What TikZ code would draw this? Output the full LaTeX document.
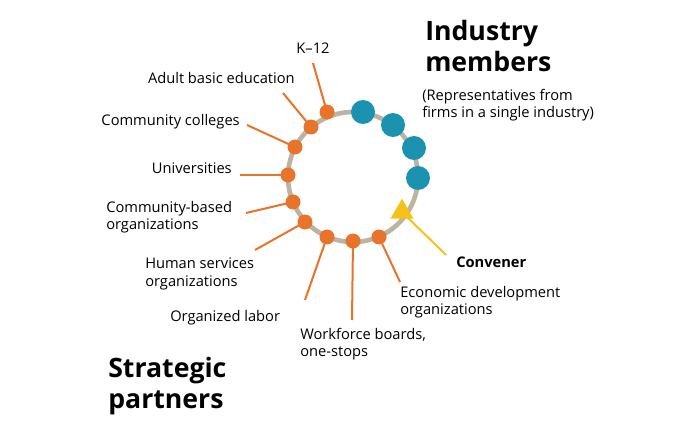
\documentclass[tikz,border=0pt]{standalone}
\usepackage{fontspec}
\setmainfont{Open Sans}
\usetikzlibrary{shapes.geometric}
\begin{document}
\begin{tikzpicture}[x=0.75pt,y=-0.75pt,
 lbl/.style={font=\fontsize{11}{13}\selectfont, inner sep=0pt, align=left},
 ttl/.style={font=\fontsize{20}{23}\selectfont\bfseries, inner sep=0pt, align=left},
 od/.style={circle, fill=orange1, minimum size=11.25pt, inner sep=0pt},
 bd/.style={circle, fill=blue1, minimum size=18pt, inner sep=0pt},
 tri/.style={fill=yel, regular polygon, regular polygon sides=3, inner sep=0pt, minimum size=20pt},
 ol/.style={draw=orange1, line width=1.5pt}]
\definecolor{orange1}{HTML}{E8732A}
\definecolor{blue1}{HTML}{1A92B0}
\definecolor{ring}{HTML}{BDB3A0}
\definecolor{yel}{HTML}{F5C21A}
\useasboundingbox (0,0) rectangle (700,424);
\draw[ring, line width=3.5pt] (353,177) circle (65);
\coordinate (k) at (327,112);
\coordinate (a) at (311,127);
\coordinate (c) at (295,147);
\coordinate (u) at (288,175);
\coordinate (cb) at (293,202);
\coordinate (h) at (305,222);
\coordinate (o) at (327,237);
\coordinate (w) at (353,241);
\coordinate (e) at (379,237);
\coordinate (t) at (402,212);
\coordinate (ke) at (313,63);
\coordinate (ae) at (283,93);
\coordinate (ce) at (247,125);
\coordinate (ue) at (240,175);
\coordinate (cbe) at (246,213);
\coordinate (he) at (255,250);
\coordinate (oe) at (305,300);
\coordinate (we) at (352,320);
\coordinate (ee) at (400,282);
\coordinate (te) at (446,255);
\draw[ol] (k)--(ke); \draw[ol] (a)--(ae); \draw[ol] (c)--(ce);
\draw[ol] (u)--(ue); \draw[ol] (cb)--(cbe); \draw[ol] (h)--(he);
\draw[ol] (o)--(oe); \draw[ol] (w)--(we); \draw[ol] (e)--(ee);
\draw[yel, line width=1.5pt] (t)--(te);
\node[od] (nk) at (k) {}; \node[od] (na) at (a) {}; \node[od] (nc) at (c) {}; \node[od] (nu) at (u) {};
\node[od] (ncb) at (cb) {}; \node[od] (nh) at (h) {}; \node[od] (no) at (o) {}; \node[od] (nw) at (w) {}; \node[od] (ne) at (e) {};
\node[bd] (b1) at (363,112) {};
\node[bd] (b2) at (393,125) {};
\node[bd] (b3) at (414,148) {};
\node[bd] (b4) at (418,178) {};
\node[tri] (nt) at (t) {};
\node[lbl] (tk) at (313,48) {K--12};
\node[lbl, anchor=east] (ta) at (295,78) {Adult basic education};
\node[lbl, anchor=east] (tc) at (240,122) {Community colleges};
\node[lbl, anchor=east] (tu) at (232,168) {Universities};
\node[lbl, anchor=west] (tcb) at (106,217) {Community-based\\organizations};
\node[lbl, anchor=west] (th) at (145,274) {Human services\\organizations};
\node[lbl, anchor=west] (to) at (170,318) {Organized labor};
\node[lbl, anchor=west] (tw) at (300,344) {Workforce boards,\\one-stops};
\node[lbl, anchor=west] (te2) at (400,302) {Economic development\\organizations};
\node[lbl, anchor=west, font=\fontsize{11}{13}\selectfont\bfseries] (tcv) at (456,262) {Convener};
\node[ttl, anchor=west] (ti) at (425,46) {Industry\\members};
\node[lbl, anchor=west] (tr) at (422,105) {(Representatives from\\ firms in a single industry)};
\node[ttl, anchor=west] (ts) at (108,386) {Strategic\\partners};
\end{tikzpicture}
\end{document}
